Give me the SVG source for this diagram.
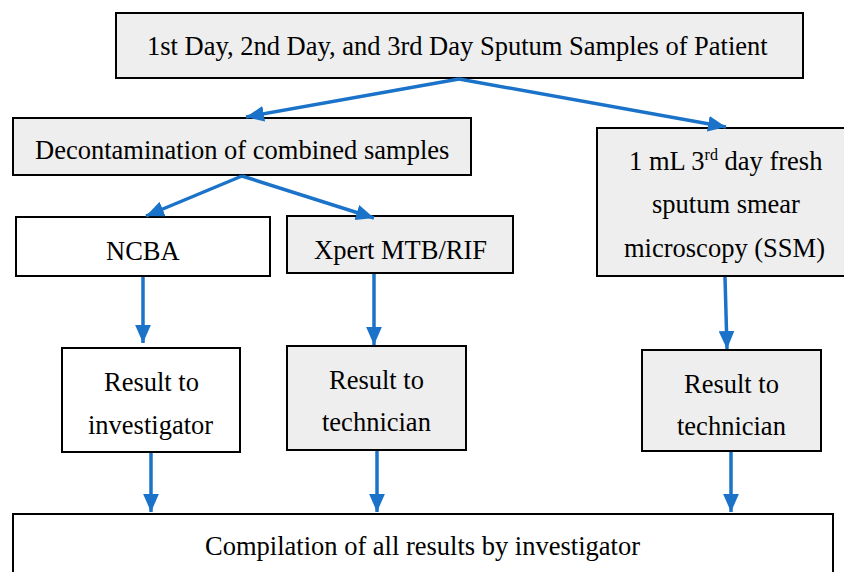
<svg xmlns="http://www.w3.org/2000/svg" width="844" height="572" viewBox="0 0 844 572">
<style>
.b{stroke:#000;stroke-width:2}
.g{fill:#eeeeee}
.w{fill:#ffffff}
.c line{stroke:#1b73c9;stroke-width:3.5;marker-end:url(#ah)}
</style>
<defs>
<marker id="ah" markerUnits="userSpaceOnUse" markerWidth="18" markerHeight="16" refX="16" refY="7" orient="auto" viewBox="0 0 16 14">
<path d="M0,0 L16,7 L0,14 z" fill="#1b73c9"/>
</marker>
</defs>
<rect width="844" height="572" fill="#fff"/>
<g id="top"><rect class="b g" x="116" y="13" width="687" height="65"/><text font-family="Liberation Serif, serif" font-size="26.5" x="147" y="55">1st Day, 2nd Day, and 3rd Day Sputum Samples of Patient</text></g>
<g id="decon"><rect class="b g" x="13" y="118" width="458" height="57"/><text font-family="Liberation Serif, serif" font-size="26.5" x="35" y="159">Decontamination of combined samples</text></g>
<g id="ssm"><rect class="b g" x="597" y="128" width="260" height="148"/>
<text font-family="Liberation Serif, serif" font-size="26.5" x="629" y="170">1 mL 3<tspan font-size="16" dy="-10">rd</tspan><tspan dy="10"> day fresh</tspan></text>
<text font-family="Liberation Serif, serif" font-size="26.5" x="652" y="213">sputum smear</text>
<text font-family="Liberation Serif, serif" font-size="26.5" x="624" y="257">microscopy (SSM)</text></g>
<g id="ncba"><rect class="b w" x="16" y="217" width="254" height="59"/><text font-family="Liberation Serif, serif" font-size="26.5" x="106" y="260">NCBA</text></g>
<g id="xpert"><rect class="b g" x="287" y="216" width="226" height="57"/><text font-family="Liberation Serif, serif" font-size="26.5" x="314" y="259">Xpert MTB/RIF</text></g>
<g id="r1"><rect class="b w" x="62" y="348" width="178" height="104"/><text font-family="Liberation Serif, serif" font-size="26.5" x="104" y="391">Result to</text><text font-family="Liberation Serif, serif" font-size="26.5" x="88" y="434">investigator</text></g>
<g id="r2"><rect class="b g" x="287" y="346" width="179" height="104"/><text font-family="Liberation Serif, serif" font-size="26.5" x="329" y="389">Result to</text><text font-family="Liberation Serif, serif" font-size="26.5" x="322" y="431">technician</text></g>
<g id="r3"><rect class="b g" x="642" y="350" width="179" height="101"/><text font-family="Liberation Serif, serif" font-size="26.5" x="684" y="393">Result to</text><text font-family="Liberation Serif, serif" font-size="26.5" x="677" y="435">technician</text></g>
<g id="comp"><rect class="b w" x="13" y="514" width="820" height="70"/><text font-family="Liberation Serif, serif" font-size="26.5" x="205" y="555">Compilation of all results by investigator</text></g>
<g class="c" id="connectors">
<line x1="459" y1="79" x2="246" y2="117"/>
<line x1="459" y1="79" x2="726" y2="127"/>
<line x1="242" y1="176" x2="146" y2="216"/>
<line x1="242" y1="176" x2="374" y2="218"/>
<line x1="143" y1="277" x2="143" y2="343"/>
<line x1="374" y1="274" x2="374" y2="345"/>
<line x1="725" y1="277" x2="727" y2="349"/>
<line x1="151" y1="453" x2="151" y2="512"/>
<line x1="377" y1="451" x2="377" y2="512"/>
<line x1="731" y1="452" x2="731" y2="512"/>
</g>
</svg>
